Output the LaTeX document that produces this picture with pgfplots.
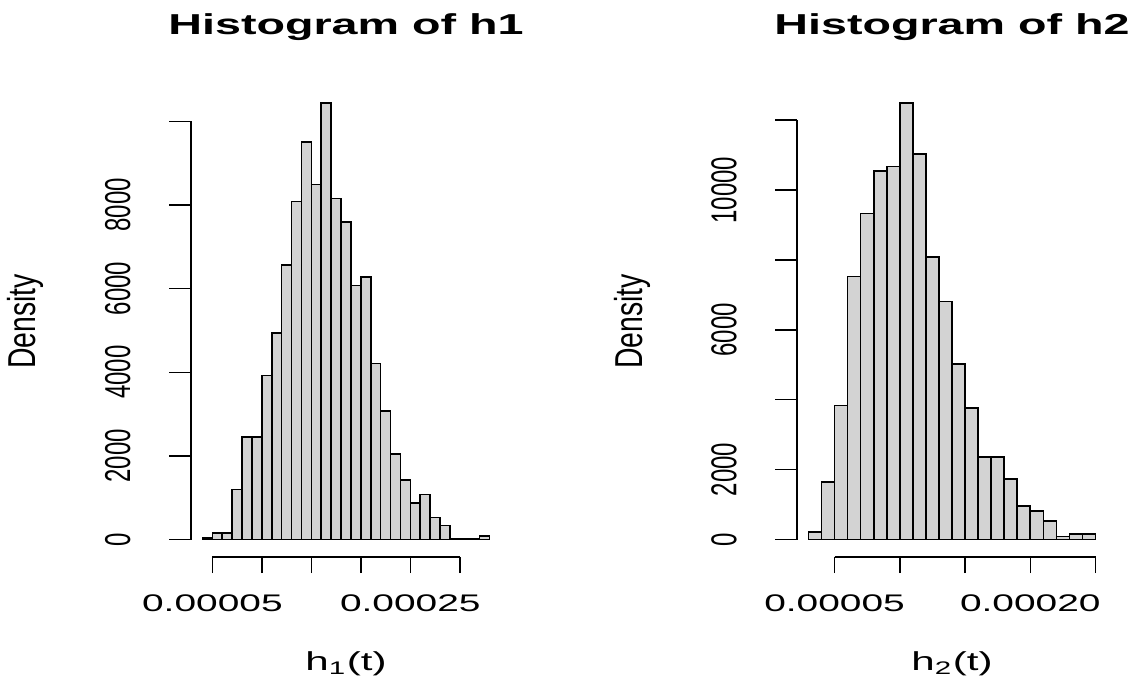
\documentclass[border=0pt]{standalone}
\usepackage{fontspec}
\usepackage{graphicx}
\usepackage{pgfplots}
\pgfplotsset{compat=1.18}
\setmainfont{Liberation Sans}
\definecolor{rgray}{HTML}{D3D3D3}
% R draws these stretched sideways: text widened to match
\newcommand{\hs}[1]{\scalebox{1.62}[1]{#1}}
\newcommand{\vs}[1]{\scalebox{1}[1.5]{#1}}

\pgfplotstableread{
x y
0.00004 40
0.00005 160
0.00006 160
0.00007 1200
0.00008 2450
0.00009 2450
0.00010 3920
0.00011 4940
0.00012 6570
0.00013 8080
0.00014 9510
0.00015 8490
0.00016 10440
0.00017 8150
0.00018 7590
0.00019 6070
0.00020 6280
0.00021 4210
0.00022 3070
0.00023 2050
0.00024 1430
0.00025 880
0.00026 1080
0.00027 530
0.00028 335
0.00029 25
0.00030 10
0.00031 10
0.00032 80
0.00033 80
}\hone

\pgfplotstableread{
x y
0.00003 210
0.00004 1650
0.00005 3830
0.00006 7530
0.00007 9330
0.00008 10540
0.00009 10680
0.00010 12490
0.00011 11030
0.00012 8090
0.00013 6810
0.00014 5030
0.00015 3770
0.00016 2370
0.00017 2370
0.00018 1740
0.00019 960
0.00020 810
0.00021 525
0.00022 86
0.00023 162
0.00024 162
0.00025 162
}\htwo

\pgfplotsset{rhist/.style={
  scale only axis, width=155pt, height=235.75pt,
  anchor=south west, clip=false,
  axis line style={draw=none},
  xtick pos=bottom, ytick pos=left, tick align=outside,
  major tick length=8pt,
  tick style={black, line width=0.7pt},
  ytick style={/pgfplots/major tick length=10.85pt},
  scaled ticks=false,
  xticklabel style={anchor=north, inner sep=0pt, font=\fontsize{12}{14}\selectfont},
  xticklabel shift=10.5pt,
  yticklabel style={rotate=90, anchor=south, inner sep=0pt, font=\fontsize{12}{14}\selectfont},
  yticklabel shift=22pt,
  title style={at={(rel axis cs:0.5,1)}, anchor=base, yshift=19.5pt, inner sep=0pt,
    font=\fontsize{14.4}{17}\selectfont\bfseries},
  xlabel style={at={(rel axis cs:0.5,0)}, anchor=base, yshift=-56.5pt, inner sep=0pt,
    font=\fontsize{13}{15}\selectfont},
  ylabel style={at={([xshift=-77.5pt]rel axis cs:0,0.5)}, rotate=0, anchor=base, inner sep=0pt,
    font=\fontsize{14.2}{16}\selectfont},
}}

\begin{document}
\begin{tikzpicture}
\path[use as bounding box] (0pt,0pt) rectangle (570.5pt,340pt);

\begin{axis}[rhist, at={(95.5pt,61.5pt)},
  xmin=0.0000284, xmax=0.0003416, ymin=-417.5, ymax=10855.5,
  xtick={0.00005,0.0001,0.00015,0.0002,0.00025,0.0003},
  xticklabels={\hs{0.00005},,,,\hs{0.00025},},
  ytick={0,2000,4000,6000,8000,10000},
  yticklabels={\vs{0},\vs{2000},\vs{4000},\vs{6000},\vs{8000},},
  title={\hs{Histogram of h1}},
  xlabel={\hs{h\textsubscript{1}(t)}},
  ylabel={\scalebox{1}[1.37]{Density}}]
\addplot[ybar interval, fill=rgray, draw=black, line width=0.8pt] table {\hone};
\draw[line width=0.7pt] (axis cs:0.00005,-417.5) -- (axis cs:0.0003,-417.5);
\draw[line width=0.7pt] (axis cs:0.0000284,0) -- (axis cs:0.0000284,10000);
\end{axis}

\begin{axis}[rhist, at={(398.5pt,61.5pt)},
  xmin=0.0000212, xmax=0.0002588, ymin=-500, ymax=12993,
  xtick={0.00005,0.0001,0.00015,0.0002,0.00025},
  xticklabels={\hs{0.00005},,,\hs{0.00020},},
  ytick={0,2000,4000,6000,8000,10000,12000},
  yticklabels={\vs{0},\vs{2000},,\vs{6000},,\vs{10000},},
  title={\hs{Histogram of h2}},
  xlabel={\hs{h\textsubscript{2}(t)}},
  ylabel={\scalebox{1}[1.37]{Density}}]
\addplot[ybar interval, fill=rgray, draw=black, line width=0.8pt] table {\htwo};
\draw[line width=0.7pt] (axis cs:0.00005,-500) -- (axis cs:0.00025,-500);
\draw[line width=0.7pt] (axis cs:0.0000212,0) -- (axis cs:0.0000212,12000);
\end{axis}
\end{tikzpicture}
\end{document}
